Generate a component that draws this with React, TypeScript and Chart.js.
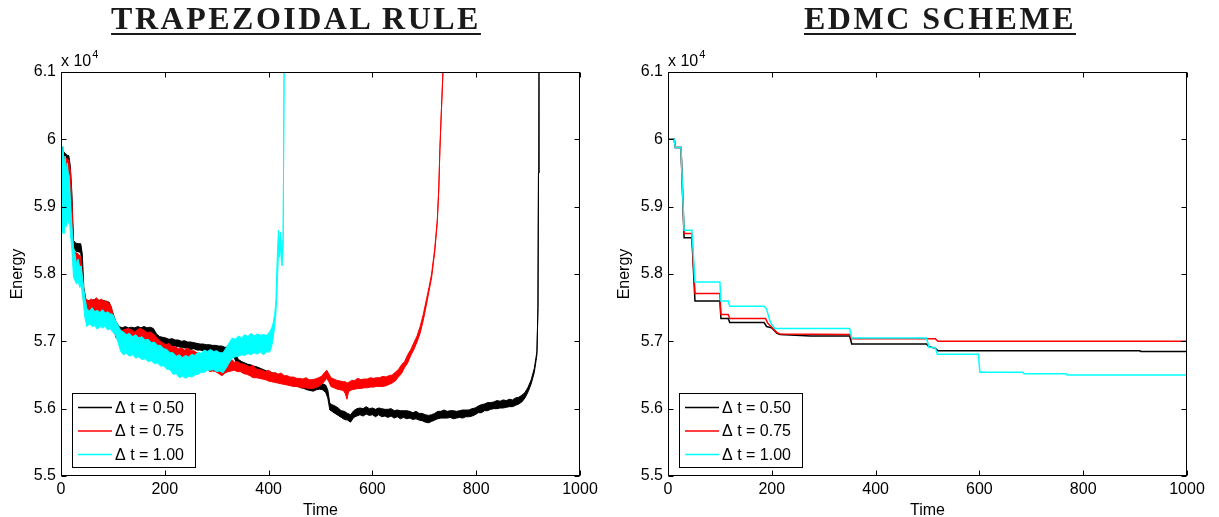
import React, { useEffect, useRef } from 'react';
import { Chart, registerables } from 'chart.js';

Chart.register(...registerables);

// ---------- axis ticks / labels ----------
const X_TICKS = [0, 200, 400, 600, 800, 1000];
const Y_TICKS = [5.5, 5.6, 5.7, 5.8, 5.9, 6.0, 6.1];
const Y_TICK_LABELS = ['5.5', '5.6', '5.7', '5.8', '5.9', '6', '6.1'];
const SERIES_LABELS = ['\u0394 t = 0.50', '\u0394 t = 0.75', '\u0394 t = 1.00'];
const SERIES_COLORS = ['#000000', '#ff0000', '#00ffff'];
const TITLES = ['TRAPEZOIDAL RULE', 'EDMC SCHEME'];

// ---------- Trapezoidal rule (energy / 1e4): rows [time, upper envelope, lower envelope] of the noisy trace ----------
const TRAP_050: number[][] = [
  [0, 5.975, 5.96], [2, 5.988, 5.965], [5, 5.982, 5.965], [8, 5.979, 5.963], [10, 5.978, 5.962], [13, 5.976, 5.96], [15, 5.976, 5.96], [18, 5.96, 5.94], [21, 5.92, 5.90], [24, 5.85, 5.84],
  [28, 5.846, 5.834], [33, 5.845, 5.833], [38, 5.845, 5.832], [41, 5.83, 5.80], [44, 5.78, 5.765], [48, 5.762, 5.752], [55, 5.76, 5.75], [65, 5.762, 5.75], [75, 5.761, 5.75], [85, 5.76, 5.748], [93, 5.758, 5.745],
  [100, 5.742, 5.731], [106, 5.729, 5.716], [112, 5.722, 5.711], [118, 5.720, 5.711], [124, 5.722, 5.711], [130, 5.720, 5.712], [136, 5.721, 5.710], [142, 5.720, 5.711], [148, 5.722, 5.711], [154, 5.720, 5.711],
  [160, 5.722, 5.710], [166, 5.720, 5.711], [172, 5.721, 5.710], [178, 5.719, 5.708], [184, 5.711, 5.700], [190, 5.707, 5.697], [196, 5.706, 5.696], [202, 5.705, 5.695], [208, 5.703, 5.695], [214, 5.704, 5.693],
  [220, 5.702, 5.693], [226, 5.702, 5.692], [232, 5.700, 5.691], [238, 5.701, 5.690], [244, 5.699, 5.690], [250, 5.699, 5.688], [256, 5.698, 5.689], [262, 5.697, 5.687], [268, 5.696, 5.687], [274, 5.696, 5.686],
  [280, 5.695, 5.686], [286, 5.695, 5.684], [292, 5.694, 5.685], [298, 5.694, 5.683], [304, 5.693, 5.684], [310, 5.693, 5.682], [316, 5.691, 5.682], [322, 5.692, 5.680], [328, 5.689, 5.680], [334, 5.688, 5.675],
  [338, 5.678, 5.668], [342, 5.673, 5.664], [348, 5.670, 5.662], [354, 5.668, 5.659], [360, 5.666, 5.658], [366, 5.665, 5.656], [372, 5.663, 5.655], [378, 5.662, 5.652], [384, 5.660, 5.652], [390, 5.658, 5.649],
  [396, 5.656, 5.648], [402, 5.655, 5.646], [408, 5.653, 5.645], [414, 5.653, 5.643], [420, 5.650, 5.642], [426, 5.649, 5.639], [432, 5.647, 5.638], [438, 5.646, 5.636], [444, 5.644, 5.635], [450, 5.643, 5.633],
  [456, 5.641, 5.633], [462, 5.640, 5.631], [468, 5.638, 5.630], [474, 5.638, 5.628], [480, 5.636, 5.627], [486, 5.636, 5.626], [492, 5.637, 5.628], [498, 5.639, 5.629], [504, 5.637, 5.628], [510, 5.635, 5.624],
  [514, 5.628, 5.616], [518, 5.608, 5.598], [522, 5.606, 5.596], [528, 5.604, 5.593], [534, 5.601, 5.590], [540, 5.597, 5.587], [546, 5.596, 5.584], [552, 5.593, 5.583], [558, 5.591, 5.580], [564, 5.597, 5.587],
  [570, 5.600, 5.589], [576, 5.601, 5.591], [582, 5.600, 5.589], [588, 5.603, 5.592], [594, 5.600, 5.590], [600, 5.601, 5.591], [606, 5.599, 5.588], [612, 5.601, 5.591], [618, 5.600, 5.588], [624, 5.599, 5.589],
  [630, 5.599, 5.587], [636, 5.600, 5.589], [642, 5.597, 5.586], [648, 5.598, 5.588], [654, 5.597, 5.585], [660, 5.597, 5.587], [666, 5.597, 5.585], [672, 5.596, 5.586], [678, 5.594, 5.584], [684, 5.596, 5.585],
  [690, 5.593, 5.583], [696, 5.593, 5.582], [702, 5.591, 5.580], [708, 5.590, 5.579], [714, 5.591, 5.581], [720, 5.593, 5.583], [726, 5.596, 5.585], [732, 5.596, 5.586], [738, 5.598, 5.586], [744, 5.596, 5.586],
  [750, 5.597, 5.587], [756, 5.597, 5.585], [762, 5.596, 5.586], [768, 5.597, 5.587], [774, 5.598, 5.586], [780, 5.598, 5.588], [786, 5.598, 5.588], [792, 5.600, 5.589], [798, 5.601, 5.591], [804, 5.604, 5.594],
  [810, 5.606, 5.594], [816, 5.607, 5.597], [822, 5.609, 5.597], [828, 5.609, 5.599], [834, 5.610, 5.600], [840, 5.612, 5.600], [846, 5.611, 5.601], [852, 5.613, 5.601], [858, 5.612, 5.602], [864, 5.614, 5.603],
  [870, 5.613, 5.603], [876, 5.616, 5.605], [882, 5.617, 5.607], [888, 5.620, 5.610], [894, 5.624, 5.616], [900, 5.632, 5.625], [906, 5.643, 5.637], [912, 5.660, 5.654], [917, 5.685, 5.680], [919, 5.75, 5.75],
  [920, 5.95, 5.95], [921, 6.12, 6.12],
];

const TRAP_075: number[][] = [
  [0, 5.975, 5.96], [3, 5.98, 5.95], [6, 5.975, 5.945], [10, 5.972, 5.94], [14, 5.97, 5.945], [18, 5.955, 5.93], [21, 5.91, 5.88], [24, 5.835, 5.81], [28, 5.832, 5.81], [33, 5.83, 5.806],
  [38, 5.825, 5.80], [41, 5.80, 5.78], [44, 5.775, 5.755], [48, 5.762, 5.745], [53, 5.760, 5.744], [58, 5.763, 5.744], [63, 5.760, 5.745], [68, 5.765, 5.746], [73, 5.760, 5.744], [78, 5.763, 5.742],
  [83, 5.759, 5.744], [88, 5.760, 5.741], [93, 5.756, 5.740], [97, 5.752, 5.735], [100, 5.740, 5.725], [106, 5.726, 5.705], [112, 5.718, 5.701], [118, 5.716, 5.699], [124, 5.718, 5.698], [130, 5.719, 5.699],
  [136, 5.717, 5.697], [142, 5.714, 5.698], [148, 5.718, 5.697], [154, 5.719, 5.698], [160, 5.716, 5.696], [166, 5.713, 5.693], [172, 5.714, 5.694], [178, 5.711, 5.694], [184, 5.706, 5.688], [190, 5.701, 5.684],
  [196, 5.698, 5.679], [202, 5.695, 5.675], [208, 5.697, 5.668], [214, 5.692, 5.672], [220, 5.692, 5.669], [226, 5.689, 5.669], [232, 5.690, 5.667], [238, 5.687, 5.668], [244, 5.690, 5.662], [250, 5.686, 5.666],
  [256, 5.686, 5.664], [262, 5.683, 5.664], [268, 5.682, 5.662], [274, 5.680, 5.662], [280, 5.678, 5.660], [286, 5.678, 5.655], [292, 5.673, 5.656], [298, 5.668, 5.655], [304, 5.667, 5.652], [310, 5.664, 5.649],
  [316, 5.667, 5.653], [322, 5.668, 5.655], [328, 5.674, 5.656], [334, 5.669, 5.657], [340, 5.670, 5.655], [346, 5.667, 5.655], [352, 5.666, 5.652], [358, 5.664, 5.651], [364, 5.662, 5.649], [370, 5.664, 5.646],
  [376, 5.659, 5.646], [382, 5.658, 5.645], [388, 5.657, 5.644], [394, 5.655, 5.643], [400, 5.657, 5.641], [406, 5.653, 5.640], [412, 5.653, 5.639], [418, 5.651, 5.638], [424, 5.653, 5.637], [430, 5.649, 5.636],
  [436, 5.649, 5.635], [442, 5.647, 5.634], [448, 5.647, 5.633], [454, 5.645, 5.633], [460, 5.645, 5.632], [466, 5.644, 5.631], [472, 5.646, 5.631], [478, 5.643, 5.630], [484, 5.643, 5.630], [490, 5.644, 5.631],
  [496, 5.646, 5.633], [502, 5.648, 5.636], [508, 5.654, 5.641], [512, 5.657, 5.645], [516, 5.652, 5.640], [520, 5.646, 5.633], [526, 5.644, 5.631], [532, 5.642, 5.629], [538, 5.641, 5.628], [544, 5.640, 5.627],
  [548, 5.640, 5.622], [551, 5.638, 5.614], [554, 5.639, 5.625], [560, 5.642, 5.628], [566, 5.642, 5.629], [572, 5.645, 5.630], [578, 5.643, 5.630], [584, 5.644, 5.631], [590, 5.644, 5.631], [596, 5.646, 5.632],
  [602, 5.645, 5.632], [608, 5.646, 5.633], [614, 5.646, 5.633], [620, 5.648, 5.633], [626, 5.647, 5.634], [632, 5.649, 5.636], [638, 5.650, 5.638], [644, 5.654, 5.641], [650, 5.658, 5.647], [656, 5.665, 5.652],
  [662, 5.670, 5.661], [668, 5.680, 5.668], [674, 5.688, 5.679], [680, 5.698, 5.688], [686, 5.708, 5.699], [692, 5.722, 5.712], [698, 5.740, 5.731], [704, 5.762, 5.754], [709, 5.780, 5.774], [714, 5.800, 5.794],
  [720, 5.837, 5.832], [725, 5.88, 5.876], [728, 5.93, 5.927], [730, 5.985, 5.983], [733, 6.045, 6.043], [737, 6.12, 6.12],
];

const TRAP_100: number[][] = [
  [0, 6.0, 5.87], [2, 5.97, 5.86], [4, 5.99, 5.865], [6, 5.96, 5.86], [8, 5.975, 5.875], [10, 5.955, 5.87], [12, 5.965, 5.885], [14, 5.95, 5.875], [16, 5.945, 5.885], [18, 5.91, 5.86],
  [20, 5.885, 5.845], [22, 5.86, 5.825], [24, 5.84, 5.795], [27, 5.83, 5.79], [30, 5.815, 5.785], [33, 5.822, 5.79], [36, 5.81, 5.78], [39, 5.812, 5.782], [42, 5.79, 5.765], [46, 5.765, 5.735],
  [50, 5.748, 5.722], [55, 5.745, 5.726], [60, 5.750, 5.722], [65, 5.744, 5.723], [70, 5.746, 5.718], [75, 5.743, 5.722], [80, 5.747, 5.720], [85, 5.742, 5.722], [90, 5.744, 5.717], [95, 5.741, 5.719],
  [100, 5.740, 5.713], [105, 5.731, 5.710], [110, 5.724, 5.698], [115, 5.716, 5.685], [120, 5.714, 5.680], [126, 5.710, 5.682], [132, 5.712, 5.678], [138, 5.707, 5.680], [144, 5.710, 5.675], [150, 5.705, 5.677],
  [156, 5.707, 5.673], [162, 5.702, 5.674], [168, 5.703, 5.670], [174, 5.698, 5.671], [180, 5.699, 5.667], [186, 5.694, 5.668], [192, 5.694, 5.663], [198, 5.689, 5.664], [204, 5.688, 5.658], [210, 5.683, 5.658],
  [216, 5.683, 5.651], [222, 5.678, 5.652], [228, 5.680, 5.646], [234, 5.676, 5.648], [240, 5.679, 5.645], [246, 5.677, 5.648], [252, 5.681, 5.647], [258, 5.679, 5.650], [264, 5.684, 5.651], [270, 5.682, 5.654],
  [276, 5.687, 5.654], [282, 5.685, 5.657], [288, 5.688, 5.657], [294, 5.685, 5.658], [300, 5.686, 5.655], [306, 5.683, 5.656], [312, 5.683, 5.653], [318, 5.690, 5.660], [324, 5.698, 5.668], [330, 5.705, 5.675],
  [336, 5.703, 5.677], [342, 5.708, 5.678], [348, 5.705, 5.680], [354, 5.710, 5.679], [360, 5.707, 5.682], [366, 5.712, 5.680], [372, 5.708, 5.683], [378, 5.711, 5.681], [384, 5.709, 5.684], [390, 5.710, 5.680],
  [396, 5.709, 5.684], [402, 5.714, 5.684], [406, 5.720, 5.693], [409, 5.728, 5.705], [412, 5.742, 5.725], [414, 5.76, 5.74], [416, 5.81, 5.77], [418, 5.85, 5.81], [419, 5.865, 5.83], [421, 5.845, 5.825],
  [423, 5.862, 5.84], [425, 5.835, 5.815], [426, 5.825, 5.812], [428, 5.86, 5.84], [430, 6.12, 6.12],
];

// ---------- EDMC scheme (energy / 1e4) ----------
const EDMC_T_050 = [0, 12, 14, 25, 31, 46, 52, 100, 102, 116, 119, 185, 190, 200, 210, 216, 275, 350, 354, 498, 503, 515, 520, 909, 911, 1000];
const EDMC_E_050 = [6.0, 6.0, 5.988, 5.988, 5.854, 5.854, 5.760, 5.760, 5.734, 5.734, 5.728, 5.728, 5.722, 5.720, 5.712, 5.710, 5.708, 5.708, 5.696, 5.696, 5.692, 5.690, 5.686, 5.686, 5.685, 5.685];
const EDMC_T_075 = [0, 12, 14, 25, 31, 46, 52, 100, 102, 116, 119, 188, 192, 200, 210, 216, 350, 354, 515, 520, 1000];
const EDMC_E_075 = [6.0, 6.0, 5.988, 5.988, 5.860, 5.860, 5.771, 5.771, 5.740, 5.740, 5.734, 5.734, 5.727, 5.721, 5.713, 5.711, 5.710, 5.704, 5.704, 5.700, 5.700];
const EDMC_T_100 = [0, 12, 14, 25, 31, 46, 52, 100, 102, 116, 119, 185, 190, 196, 200, 206, 350, 354, 498, 503, 515, 519, 598, 601, 684, 686, 767, 769, 1000];
const EDMC_E_100 = [6.0, 6.0, 5.988, 5.988, 5.865, 5.865, 5.788, 5.788, 5.760, 5.760, 5.752, 5.752, 5.748, 5.731, 5.725, 5.719, 5.719, 5.705, 5.705, 5.691, 5.691, 5.681, 5.681, 5.654, 5.654, 5.652, 5.652, 5.650, 5.650];

const FONT = 'Liberation Sans, Arial, Helvetica, sans-serif';

function pts(t: number[], v: number[]) {
  return t.map((x, i) => ({ x, y: v[i] }));
}

function bandDatasets(rows: number[][], color: string, order: number) {
  const t = rows.map((r) => r[0]);
  const hi = rows.map((r) => r[1]);
  const lo = rows.map((r) => r[2]);
  return [
    { data: pts(t, hi), borderColor: color, backgroundColor: color, borderWidth: 1, pointRadius: 0, fill: false, order },
    { data: pts(t, lo), borderColor: color, backgroundColor: color, borderWidth: 1, pointRadius: 0, fill: '-1', order },
  ];
}

function lineDataset(t: number[], v: number[], color: string, order: number) {
  return { data: pts(t, v), borderColor: color, backgroundColor: color, borderWidth: 1.5, pointRadius: 0, fill: false, order };
}

const matlabFrame = {
  id: 'matlabFrame',
  afterDraw(chart: any) {
    const { ctx, chartArea: a, scales } = chart;
    const xs = scales.x;
    const ys = scales.y;
    const o = chart.options.plugins.matlabFrame;
    const L = Math.round(a.left) + 0.5;
    const R = Math.round(a.right) - 0.5;
    const T = Math.round(a.top) + 0.5;
    const B = Math.round(a.bottom) - 0.5;
    ctx.save();
    ctx.strokeStyle = '#000';
    ctx.lineWidth = 1;
    ctx.strokeRect(L, T, R - L, B - T);
    const tl = 5;
    ctx.beginPath();
    X_TICKS.forEach((v) => {
      const px = Math.round(xs.getPixelForValue(v)) + 0.5;
      ctx.moveTo(px, B); ctx.lineTo(px, B - tl);
      ctx.moveTo(px, T); ctx.lineTo(px, T + tl);
    });
    Y_TICKS.forEach((v) => {
      const py = Math.round(ys.getPixelForValue(v)) + 0.5;
      ctx.moveTo(L, py); ctx.lineTo(L + tl, py);
      ctx.moveTo(R, py); ctx.lineTo(R - tl, py);
    });
    ctx.stroke();

    // exponent label
    ctx.fillStyle = '#000';
    ctx.textBaseline = 'alphabetic';
    ctx.textAlign = 'left';
    ctx.font = `16px ${FONT}`;
    ctx.fillText('x 10', a.left, a.top - 6);
    const w = ctx.measureText('x 10').width;
    ctx.font = `11px ${FONT}`;
    ctx.fillText('4', a.left + w + 1, a.top - 14);

    // axis titles
    ctx.font = `16px ${FONT}`;
    ctx.textAlign = 'center';
    ctx.fillText(o.xTitle, (a.left + a.right) / 2, 515);
    ctx.save();
    ctx.translate(a.left - 43, (a.top + a.bottom) / 2);
    ctx.rotate(-Math.PI / 2);
    ctx.textBaseline = 'middle';
    ctx.fillText(o.yTitle, 0, 0);
    ctx.restore();

    // legend (MATLAB style, lower left)
    const lx = Math.round(a.left) + 11;
    const ly = Math.round(a.bottom) - 83;
    const lw = 123;
    const lh = 74;
    ctx.fillStyle = '#fff';
    ctx.fillRect(lx, ly, lw, lh);
    ctx.strokeStyle = '#000';
    ctx.lineWidth = 1;
    ctx.strokeRect(lx + 0.5, ly + 0.5, lw, lh);
    o.items.forEach((it: any, i: number) => {
      const yy = ly + 14.5 + i * 23.5;
      ctx.strokeStyle = it.color;
      ctx.lineWidth = 1.5;
      ctx.beginPath();
      ctx.moveTo(lx + 6, yy);
      ctx.lineTo(lx + 40, yy);
      ctx.stroke();
      ctx.fillStyle = '#000';
      ctx.font = `16px ${FONT}`;
      ctx.textAlign = 'left';
      ctx.textBaseline = 'middle';
      ctx.fillText(it.label, lx + 43, yy + 1);
    });
    ctx.restore();
  },
};

function makeConfig(datasets: any[], padRight: number): any {
  return {
    type: 'line',
    data: { datasets },
    plugins: [matlabFrame],
    options: {
      animation: false,
      responsive: false,
      events: [],
      layout: { padding: { left: 0, right: padRight, top: 72, bottom: 0 } },
      plugins: {
        legend: { display: false },
        tooltip: { enabled: false },
        matlabFrame: {
          xTitle: 'Time',
          yTitle: 'Energy',
          items: SERIES_LABELS.map((label, i) => ({ label, color: SERIES_COLORS[i] })),
        },
      },
      scales: {
        x: {
          type: 'linear',
          min: 0,
          max: 1000,
          grid: { display: false, drawTicks: false },
          border: { display: false },
          afterBuildTicks: (s: any) => { s.ticks = X_TICKS.map((v) => ({ value: v })); },
          afterFit: (s: any) => { s.height = 41; },
          ticks: {
            autoSkip: false,
            maxRotation: 0,
            padding: 4,
            color: '#000',
            font: { family: FONT, size: 16 },
            callback: (v: any) => String(v),
          },
        },
        y: {
          type: 'linear',
          min: 5.5,
          max: 6.1,
          grid: { display: false, drawTicks: false },
          border: { display: false },
          afterBuildTicks: (s: any) => { s.ticks = Y_TICKS.map((v) => ({ value: v })); },
          afterFit: (s: any) => { s.width = 61; },
          ticks: {
            autoSkip: false,
            padding: 5,
            color: '#000',
            font: { family: FONT, size: 16 },
            callback: (_v: any, i: number) => Y_TICK_LABELS[i],
          },
        },
      },
    },
  };
}

function trapDatasets() {
  return [
    ...bandDatasets(TRAP_050, SERIES_COLORS[0], 3),
    ...bandDatasets(TRAP_075, SERIES_COLORS[1], 2),
    ...bandDatasets(TRAP_100, SERIES_COLORS[2], 1),
  ];
}

function edmcDatasets() {
  return [
    lineDataset(EDMC_T_050, EDMC_E_050, SERIES_COLORS[0], 3),
    lineDataset(EDMC_T_075, EDMC_E_075, SERIES_COLORS[1], 2),
    lineDataset(EDMC_T_100, EDMC_E_100, SERIES_COLORS[2], 1),
  ];
}

function titleStyle(center: number): React.CSSProperties {
  return {
    position: 'absolute',
    left: center - 300,
    width: 600,
    top: 2,
    textAlign: 'center',
    fontFamily: 'Liberation Serif, Times New Roman, serif',
    fontWeight: 'bold',
    fontSize: 32,
    lineHeight: '32px',
    letterSpacing: '2.5px',
    color: '#1a1a1a',
  };
}

const underline: React.CSSProperties = {
  textDecoration: 'underline',
  textDecorationThickness: '2px',
  textUnderlineOffset: '4px',
};

export default function App() {
  const leftRef = useRef<HTMLCanvasElement>(null);
  const rightRef = useRef<HTMLCanvasElement>(null);

  useEffect(() => {
    const c1 = new Chart(leftRef.current as HTMLCanvasElement, makeConfig(trapDatasets(), 27));
    const c2 = new Chart(rightRef.current as HTMLCanvasElement, makeConfig(edmcDatasets(), 32));
    return () => {
      c1.destroy();
      c2.destroy();
    };
  }, []);

  return (
    <div style={{ position: 'fixed', left: 0, top: 0, width: 1219, height: 517, background: '#fff', overflow: 'hidden' }}>
      <canvas ref={leftRef} width={607} height={517} style={{ position: 'absolute', left: 0, top: 0 }} />
      <canvas ref={rightRef} width={612} height={517} style={{ position: 'absolute', left: 607, top: 0 }} />
      <div style={titleStyle(296)}><span style={underline}>{TITLES[0]}</span></div>
      <div style={titleStyle(940)}><span style={underline}>{TITLES[1]}</span></div>
    </div>
  );
}
